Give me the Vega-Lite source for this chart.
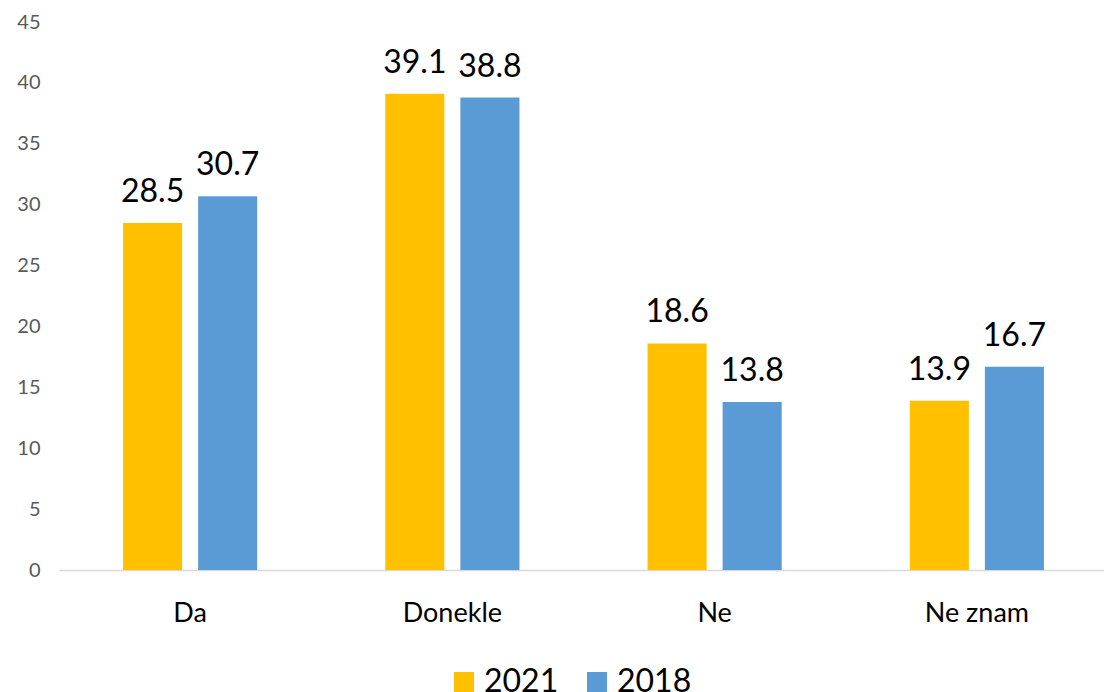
{
  "$schema": "https://vega.github.io/schema/vega-lite/v6.json",
  "autosize": {"type": "none"},
  "padding": {"left": 59, "top": 22, "right": 0, "bottom": 122},
  "width": 1049,
  "height": 548,
  "background": "white",
  "config": {"view": {"stroke": null}, "font": "Lato"},
  "data": {"values": [
    {"cat": "Da", "year": "2021", "value": 28.5},
    {"cat": "Da", "year": "2018", "value": 30.7},
    {"cat": "Donekle", "year": "2021", "value": 39.1},
    {"cat": "Donekle", "year": "2018", "value": 38.8},
    {"cat": "Ne", "year": "2021", "value": 18.6},
    {"cat": "Ne", "year": "2018", "value": 13.8},
    {"cat": "Ne znam", "year": "2021", "value": 13.9},
    {"cat": "Ne znam", "year": "2018", "value": 16.7}
  ]},
  "encoding": {
    "x": {"field": "cat", "type": "nominal", "sort": ["Da", "Donekle", "Ne", "Ne znam"],
      "scale": {"paddingInner": 0, "paddingOuter": 0},
      "axis": {"title": null, "labelAngle": 0, "ticks": false, "domainColor": "#d9d9d9", "domainWidth": 1.5,
        "labelFontSize": 27, "labelColor": "#000000", "labelPadding": 43, "labelBaseline": "middle"}},
    "xOffset": {"field": "year", "type": "nominal", "sort": ["2021", "2018"],
      "scale": {"paddingInner": 0.2133, "paddingOuter": 0.853}},
    "y": {"field": "value", "type": "quantitative",
      "scale": {"domain": [0, 45], "nice": false},
      "axis": {"title": null, "values": [0,5,10,15,20,25,30,35,40,45], "grid": false, "domain": false, "ticks": false,
        "labelFontSize": 20, "labelColor": "#595959", "labelPadding": 19}}
  },
  "layer": [
    {"mark": {"type": "bar"},
      "encoding": {"color": {"field": "year", "type": "nominal",
        "scale": {"domain": ["2021", "2018"], "range": ["#FFC000", "#5B9BD5"]},
        "legend": {"title": null, "orient": "none", "direction": "horizontal", "legendX": 389, "legendY": 644,
          "symbolType": "square", "symbolSize": 400, "symbolStrokeWidth": 0, "labelFontSize": 32, "labelColor": "#000000",
          "columnPadding": 22, "labelOffset": 4}}}},
    {"mark": {"type": "text", "baseline": "bottom", "dy": -14, "fontSize": 32, "color": "#000000"},
      "encoding": {"text": {"field": "value", "type": "quantitative", "format": ".1f"}}}
  ]
}
